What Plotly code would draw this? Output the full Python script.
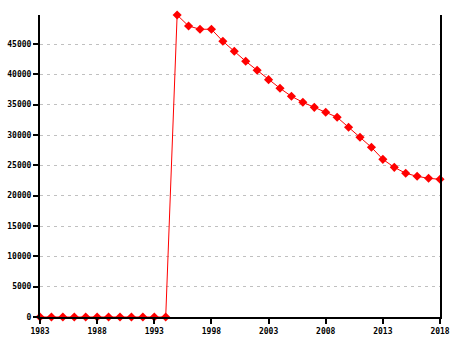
import plotly.graph_objects as go

years = list(range(1983, 2019))
values = [0, 0, 0, 0, 0, 0, 0, 0, 0, 0, 0, 0,
          49780, 47970, 47430, 47430, 45450, 43800, 42150, 40670, 39120, 37700,
          36380, 35390, 34560, 33740, 32920, 31270, 29620, 27970, 25990, 24670,
          23690, 23190, 22860, 22700]
x_ticks = [1983, 1988, 1993, 1998, 2003, 2008, 2013, 2018]
y_ticks = [0, 5000, 10000, 15000, 20000, 25000, 30000, 35000, 40000, 45000]

fig = go.Figure()
fig.add_trace(go.Scatter(
    x=years, y=values, mode="lines+markers",
    line=dict(color="#ff0000", width=1),
    marker=dict(symbol="diamond", size=7, color="#ff0000"),
    cliponaxis=False,
))

font = dict(family="DejaVu Sans Mono", size=8, color="#000000", weight="bold")

fig.update_layout(
    width=455, height=340,
    margin=dict(l=40, r=15, t=15, b=23),
    paper_bgcolor="white", plot_bgcolor="white",
    showlegend=False,
    xaxis=dict(
        range=[1983, 2018], tickvals=x_ticks, ticktext=[str(v) for v in x_ticks],
        showgrid=False, zeroline=False, automargin=False,
        showline=True, linecolor="black", linewidth=2,
        ticks="outside", ticklen=5, tickwidth=2, tickcolor="black",
        tickfont=font,
    ),
    yaxis=dict(
        range=[0, max(values)], tickvals=y_ticks, ticktext=[str(v) for v in y_ticks],
        showgrid=True, gridcolor="#c0c0c0", gridwidth=1, griddash="3px,4px",
        zeroline=False, automargin=False,
        showline=True, mirror=True, linecolor="black", linewidth=2,
        ticks="outside", ticklen=5, tickwidth=2, tickcolor="black",
        tickfont=font,
    ),
)

fig.write_html("out.html")
